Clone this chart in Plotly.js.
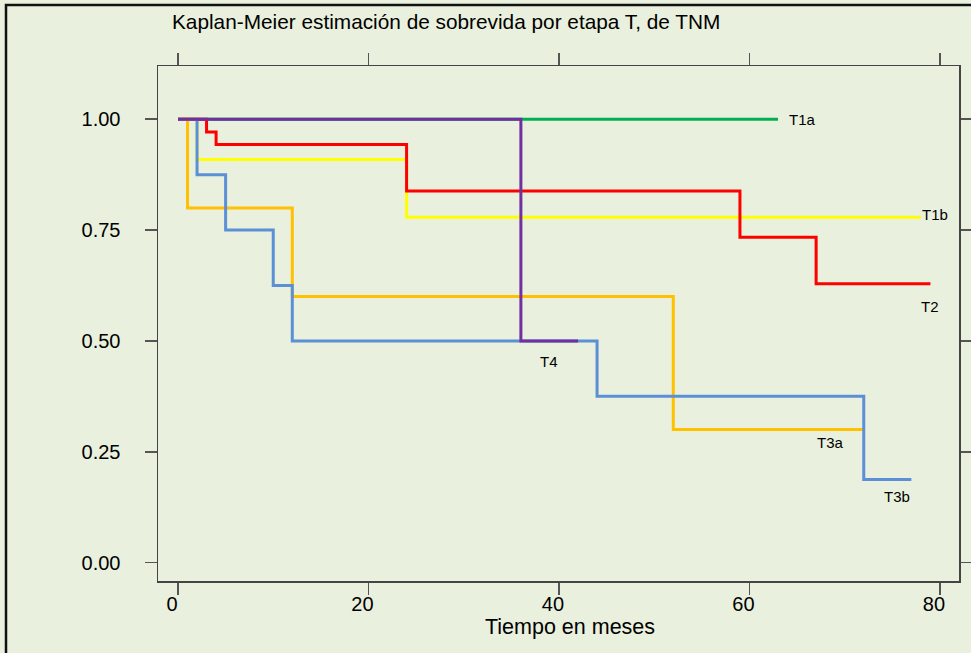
<!DOCTYPE html>
<html>
<head>
<meta charset="utf-8">
<script src="https://cdn.plot.ly/plotly-3.0.1.min.js"></script>
<style>
html,body{margin:0;padding:0;background:#e9f0dd;}
#chart{width:971px;height:653px;}
</style>
</head>
<body>
<div id="chart"></div>
<script>
// Kaplan-Meier step data (time in months, survival probability)
const seriesNames = ["T1a", "T1b", "T2", "T3a", "T3b", "T4"];
const t1aTime = [0, 63];
const t1aSurv = [1.0, 1.0];
const t1bTime = [0, 2, 24, 78];
const t1bSurv = [1.0, 0.909, 0.779, 0.779];
const t2Time = [0, 3, 4, 24, 59, 67, 79];
const t2Surv = [1.0, 0.971, 0.943, 0.838, 0.734, 0.629, 0.629];
const t3aTime = [0, 1, 12, 52, 72];
const t3aSurv = [1.0, 0.8, 0.6, 0.3, 0.3];
const t3bTime = [0, 2, 5, 10, 12, 44, 72, 77];
const t3bSurv = [1.0, 0.875, 0.75, 0.625, 0.5, 0.375, 0.1875, 0.1875];
const t4Time = [0, 36, 42];
const t4Surv = [1.0, 0.5, 0.5];
const xTicks = [0, 20, 40, 60, 80];
const yTicks = [0, 0.25, 0.5, 0.75, 1.0];
const yTickLabels = ["0.00", "0.25", "0.50", "0.75", "1.00"];

const colors = {T1a: "#00b050", T1b: "#ffff00", T2: "#ff0000", T3a: "#ffc000", T3b: "#5b8fd6", T4: "#7030a0"};
const dataMap = {
  T1a: [t1aTime, t1aSurv], T1b: [t1bTime, t1bSurv], T2: [t2Time, t2Surv],
  T3a: [t3aTime, t3aSurv], T3b: [t3bTime, t3bSurv], T4: [t4Time, t4Surv]
};
const traces = seriesNames.map(n => ({
  x: dataMap[n][0], y: dataMap[n][1], name: n, type: "scatter", mode: "lines",
  line: {shape: "hv", color: colors[n], width: 3}, hoverinfo: "x+y+name"
}));

// label placement (data coordinates)
const labelPos = {
  T1a: [65.6, 1.0], T1b: [79.5, 0.784], T2: [79.0, 0.577],
  T3a: [68.5, 0.27], T3b: [75.5, 0.148], T4: [39.0, 0.453]
};
const FONT = "Liberation Sans, Arial, sans-serif";
const annotations = seriesNames.map(n => ({
  x: labelPos[n][0], y: labelPos[n][1], xref: "x", yref: "y", text: n, showarrow: false,
  xanchor: "center", yanchor: "middle", font: {family: FONT, size: 15, color: "#000"}
}));
annotations.push({
  text: "Tiempo en meses", xref: "paper", yref: "paper", x: (570-158)/801, y: (581-627)/515,
  xanchor: "center", yanchor: "middle", showarrow: false, font: {family: FONT, size: 21.5, color: "#000"}
});

const layout = {
  width: 971, height: 653,
  margin: {l: 158, r: 12, t: 66, b: 72},
  paper_bgcolor: "#e9f0dd", plot_bgcolor: "#e9f0dd",
  font: {family: FONT, color: "#000"},
  showlegend: false,
  title: {text: "Kaplan-Meier estimación de sobrevida por etapa T, de TNM",
    x: 172/971, xanchor: "left", xref: "container", y: 1 - 22/653, yref: "container", yanchor: "middle",
    font: {family: FONT, size: 20.8, color: "#000"}},
  xaxis: {range: [-2.1, 82.0], tickvals: xTicks, ticks: "outside", ticklen: 12, tickwidth: 1.5, tickcolor: "#555",
    showline: true, linecolor: "#444", linewidth: 1.5, mirror: "ticks", showgrid: false, zeroline: false,
    tickfont: {family: FONT, size: 20, color: "#000"}, ticklabelshift: -6, ticklabelstandoff: -8},
  yaxis: {range: [-0.0415, 1.12], tickvals: yTicks, ticktext: yTickLabels, ticks: "outside", ticklen: 12, tickwidth: 1.5, tickcolor: "#555",
    showline: true, linecolor: "#444", linewidth: 1.5, mirror: "ticks", showgrid: false, zeroline: false,
    tickfont: {family: FONT, size: 20, color: "#000"}, ticklabelstandoff: 20},
  annotations: annotations,
  shapes: [{type: "rect", xref: "paper", yref: "paper", x0: (6-158)/801, x1: (985-158)/801,
    y0: (581-670)/515, y1: (581-5)/515, line: {color: "#111", width: 2.5}, fillcolor: "rgba(0,0,0,0)", layer: "below"}]
};
Plotly.newPlot("chart", traces, layout, {displayModeBar: false, staticPlot: true});
</script>
</body>
</html>
